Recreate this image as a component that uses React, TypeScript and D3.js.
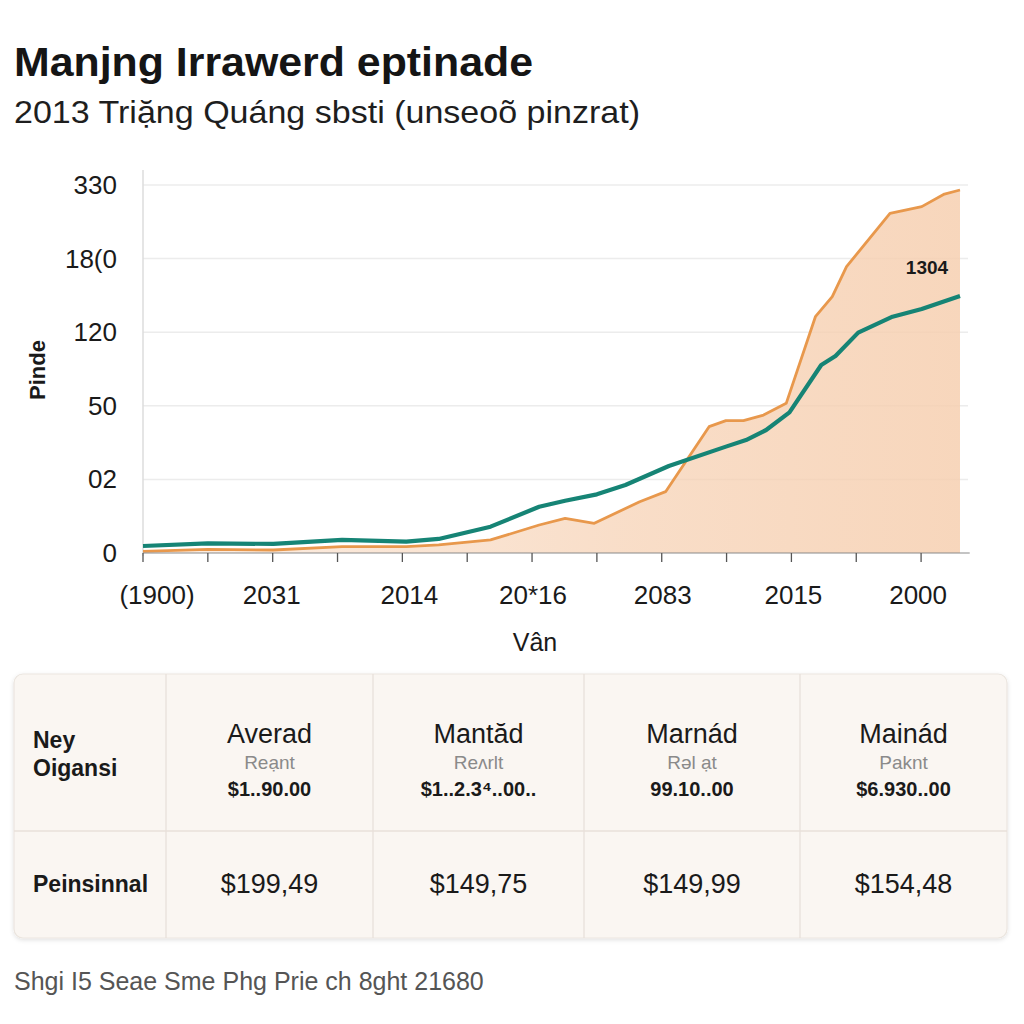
import React from "react";
import * as d3 from "d3";

const title = "Manjng Irrawerd eptinade";
const subtitle = "2013 Triặng Quáng sbsti (unseoõ pinzrat)";
const yAxisTitle = "Pinde";
const xAxisTitle = "Vân";
const footer = "Shgi I5 Seae Sme Phg Prie ch 8ght 21680";
const annotation = "1304";

const yTickValues = [0, 66, 132, 198, 264, 330];
const yTickLabels = ["0", "02", "50", "120", "18(0", "330"];
const xTickMarks = [0, 1, 2, 3, 4, 5, 6, 7, 8, 9, 10, 11, 12];
const xLabelPos = [0, 2, 4, 6, 8, 10, 12];
const xLabels = ["(1900)", "2031", "2014", "20*16", "2083", "2015", "2000"];

const tealT = [0, 1.0, 2.01, 3.07, 4.06, 4.56, 5.36, 6.11, 6.51, 7.0, 7.44, 8.11, 8.99, 9.3, 9.61, 9.97, 10.46, 10.68, 11.03, 11.56, 12.01, 12.6];
const tealV = [6.3, 8.7, 8.1, 11.7, 10.2, 12.6, 23.6, 41.5, 46.9, 52.6, 61.0, 78.0, 95.4, 101.3, 110.3, 126.1, 168.6, 176.7, 197.6, 211.9, 218.8, 230.5];

const orangeT = [0, 1.0, 2.01, 3.07, 4.06, 4.56, 5.36, 6.11, 6.51, 6.96, 7.66, 8.06, 8.73, 8.99, 9.26, 9.57, 9.92, 10.37, 10.63, 10.85, 11.52, 12.01, 12.36, 12.6];
const orangeV = [1.5, 3.3, 2.7, 5.7, 5.7, 7.2, 11.7, 25.1, 31.1, 26.6, 46.0, 55.0, 113.3, 118.7, 118.7, 123.7, 134.2, 211.9, 229.9, 256.8, 304.6, 310.6, 321.9, 325.5];

const colHeaders = ["Averad", "Mantăd", "Marnád", "Mainád"];
const colSubs = ["Reạnt", "Reʌrlt", "Rəl ạt", "Paknt"];
const colPrices = ["$1..90.00", "$1..2.3⁴..00..", "99.10..00", "$6.930..00"];
const rowLabel1 = ["Ney", "Oigansi"];
const rowLabel2 = "Peinsinnal";
const rowValues = ["$199,49", "$149,75", "$149,99", "$154,48"];

const FONT = "'Liberation Sans', Arial, Helvetica, sans-serif";

export default function App() {
  const x = d3.scaleLinear().domain([0, 12.6]).range([143, 960]);
  const y = d3.scaleLinear().domain([0, 330]).range([553, 185]);

  const teal = tealT.map((t, i) => [t, tealV[i]] as [number, number]);
  const orange = orangeT.map((t, i) => [t, orangeV[i]] as [number, number]);

  const line = d3.line<[number, number]>().x((d) => x(d[0])).y((d) => y(d[1]));
  const area = d3
    .area<[number, number]>()
    .x((d) => x(d[0]))
    .y0(y(0))
    .y1((d) => y(d[1]));

  const colEdges = [14, 166, 373, 584, 800, 1007];
  const tableTop = 674;
  const tableBottom = 938;
  const rowDiv = 831;
  const labelDx = [14, -1, 7, 1, 1, 2, -3];

  return (
    <svg
      width={1024}
      height={1024}
      style={{ position: "absolute", left: 0, top: 0, background: "#fff" }}
      fontFamily={FONT}
    >
      <defs>
        <linearGradient id="fillGrad" x1="0" x2="1" y1="0" y2="0">
          <stop offset="0%" stopColor="#f6cfb0" stopOpacity={0.35} />
          <stop offset="60%" stopColor="#f6cfb0" stopOpacity={0.7} />
          <stop offset="100%" stopColor="#f6cfb0" stopOpacity={0.85} />
        </linearGradient>
        <filter id="shadow" x="-5%" y="-5%" width="110%" height="115%">
          <feDropShadow dx="0" dy="1.5" stdDeviation="2" floodColor="#000" floodOpacity="0.12" />
        </filter>
      </defs>
      <rect width={1024} height={1024} fill="#fff" />

      <text x={14} y={76} fontSize={41} fontWeight="bold" fill="#151515" textLength={519} lengthAdjust="spacingAndGlyphs">{title}</text>
      <text x={14} y={123} fontSize={32} fill="#1e1e1e" textLength={626} lengthAdjust="spacingAndGlyphs">{subtitle}</text>

      {/* gridlines */}
      {yTickValues.slice(1).map((v) => (
        <line key={v} x1={143} x2={968} y1={y(v)} y2={y(v)} stroke="#ececec" strokeWidth={1.5} />
      ))}
      <line x1={143} x2={143} y1={170} y2={556} stroke="#dcdcdc" strokeWidth={1.5} />

      {/* area + lines */}
      <path d={area(orange) || ""} fill="url(#fillGrad)" />
      <path d={line(orange) || ""} fill="none" stroke="#e8984c" strokeWidth={2.8} strokeLinejoin="round" />
      <path d={line(teal) || ""} fill="none" stroke="#168475" strokeWidth={4.2} strokeLinejoin="round" />

      {/* x axis */}
      <line x1={143} x2={x(12.75)} y1={y(0)} y2={y(0)} stroke="#8a8a8a" strokeWidth={1.2} />
      {xTickMarks.map((t) => (
        <line key={t} x1={x(t)} x2={x(t)} y1={y(0)} y2={y(0) + 9} stroke="#555" strokeWidth={1.3} />
      ))}
      {xLabels.map((lab, i) => (
        <text
          key={lab}
          x={x(xLabelPos[i]) + labelDx[i]}
          y={604}
          fontSize={26}
          textAnchor="middle"
          fill="#1a1a1a"
        >
          {lab}
        </text>
      ))}
      <text x={535} y={651} fontSize={25} textAnchor="middle" fill="#1a1a1a">{xAxisTitle}</text>

      {/* y axis labels */}
      {yTickValues.map((v, i) => (
        <text key={v} x={117} y={y(v) + 9} fontSize={26} textAnchor="end" fill="#1a1a1a">
          {yTickLabels[i]}
        </text>
      ))}
      <text
        transform="translate(45,370) rotate(-90)"
        fontSize={22}
        fontWeight="bold"
        textAnchor="middle"
        fill="#1a1a1a"
      >
        {yAxisTitle}
      </text>

      <text x={927} y={274} fontSize={19} fontWeight="bold" textAnchor="middle" fill="#1a1a1a">
        {annotation}
      </text>

      {/* table */}
      <rect
        x={14}
        y={tableTop}
        width={993}
        height={tableBottom - tableTop}
        rx={9}
        fill="#faf6f2"
        stroke="#ebe5df"
        strokeWidth={1.2}
        filter="url(#shadow)"
      />
      {colEdges.slice(1, -1).map((cx) => (
        <line key={cx} x1={cx} x2={cx} y1={tableTop} y2={tableBottom} stroke="#e8e1da" strokeWidth={1.3} />
      ))}
      <line x1={14} x2={1007} y1={rowDiv} y2={rowDiv} stroke="#e8e1da" strokeWidth={1.3} />

      <text x={33} y={748} fontSize={23} fontWeight="bold" fill="#1a1a1a">{rowLabel1[0]}</text>
      <text x={33} y={776} fontSize={23} fontWeight="bold" fill="#1a1a1a">{rowLabel1[1]}</text>
      <text x={33} y={892} fontSize={23} fontWeight="bold" fill="#1a1a1a">{rowLabel2}</text>

      {colHeaders.map((h, i) => {
        const cx = (colEdges[i + 1] + colEdges[i + 2]) / 2;
        return (
          <g key={h}>
            <text x={cx} y={743} fontSize={27} textAnchor="middle" fill="#1a1a1a">{h}</text>
            <text x={cx} y={769} fontSize={19} textAnchor="middle" fill="#8a8a8a">{colSubs[i]}</text>
            <text x={cx} y={796} fontSize={20} fontWeight="bold" textAnchor="middle" fill="#1a1a1a">{colPrices[i]}</text>
            <text x={cx} y={893} fontSize={27} textAnchor="middle" fill="#1a1a1a">{rowValues[i]}</text>
          </g>
        );
      })}

      <text x={14} y={990} fontSize={25} fill="#555">{footer}</text>
    </svg>
  );
}
